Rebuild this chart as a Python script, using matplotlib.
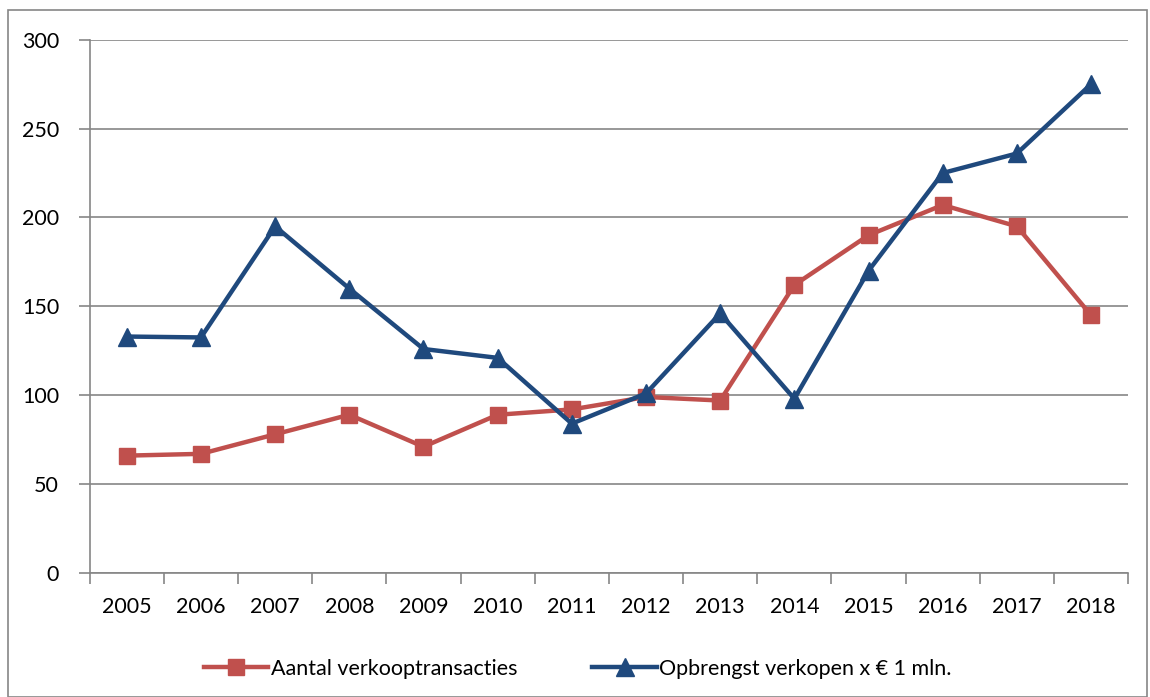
import numpy as np
import matplotlib.pyplot as plt
from matplotlib.patches import Rectangle

# Jaren en waarden
jaren = [str(j) for j in range(2005, 2019)]
transacties = [66, 67, 78, 89, 71, 89, 92, 99, 97, 162, 190, 207, 195, 145]
opbrengst = [133, 132.5, 195, 160, 126, 121, 84, 101, 146, 98, 170, 225, 236, 275]

plt.rcParams['font.family'] = ['Lato', 'DejaVu Sans']

fig = plt.figure(figsize=(11.5, 6.97), dpi=100)
ax = fig.add_axes([0.078, 0.178, 0.903, 0.765])

x = np.arange(len(jaren))
rood = '#C0504D'
blauw = '#1F497D'

ax.plot(x, transacties, color=rood, lw=3.2, marker='s', markersize=12,
        label='Aantal verkooptransacties', zorder=3)
ax.plot(x, opbrengst, color=blauw, lw=3.2, marker='^', markersize=13,
        label='Opbrengst verkopen x € 1 mln.', zorder=4)

ax.set_xlim(-0.5, len(jaren) - 0.5)
ax.set_ylim(0, 300)
ax.set_yticks(range(0, 301, 50))
ax.yaxis.grid(True, color='#868686', lw=1.2)
ax.set_axisbelow(True)

ax.set_xticks(x)
ax.set_xticklabels(jaren)
ax.tick_params(axis='x', which='major', length=0, pad=17, labelsize=15.5)
ax.set_xticks(np.arange(-0.5, len(jaren), 1), minor=True)
ax.tick_params(axis='x', which='minor', length=8, color='#868686', width=1.2)
ax.tick_params(axis='y', length=8, color='#868686', width=1.2, pad=14, labelsize=15.5)

for s in ['top', 'right']:
    ax.spines[s].set_visible(False)
for s in ['left', 'bottom']:
    ax.spines[s].set_color('#868686')
    ax.spines[s].set_linewidth(1.2)

ax.legend(loc='upper center', bbox_to_anchor=(0.47, -0.125), ncol=2, frameon=False,
          fontsize=15.5, handlelength=3, columnspacing=3.5, handletextpad=0.1)

# Rand om de hele figuur
fig.patches.append(Rectangle((0.007, 0.0), 0.99, 0.985, transform=fig.transFigure,
                             fill=False, edgecolor='#868686', lw=1.2))

fig.savefig('out.png', dpi=100)
